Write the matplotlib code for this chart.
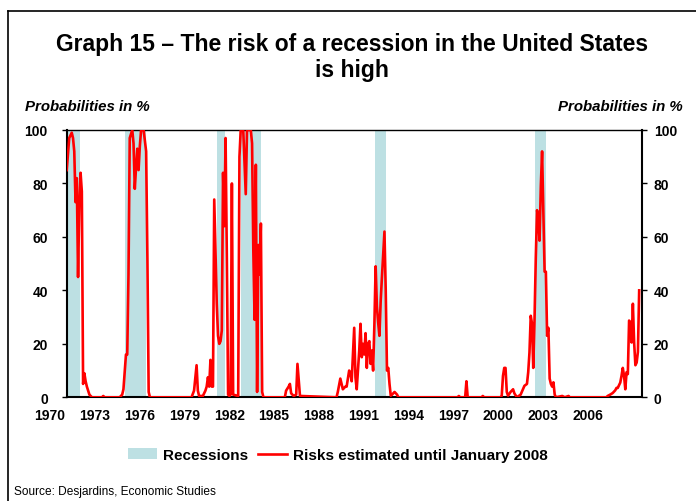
import matplotlib
matplotlib.use("Agg")
import matplotlib.pyplot as plt
from matplotlib.patches import Patch
from matplotlib.lines import Line2D
from matplotlib.transforms import ScaledTranslation
import numpy as np

# ---- data ----
# month index counted from January 1970
months = [0, 2, 4, 5, 6, 7, 8, 9, 10, 11, 12, 13, 14, 15, 16, 18, 20, 28, 29, 30,
          42, 44, 45, 47, 48, 49, 50, 52, 53, 54, 55, 56, 57, 58, 59, 61, 63, 64, 65, 66,
          99, 101, 103, 104, 105, 108, 110, 111, 112, 113, 114, 115, 116, 117, 118, 119,
          120, 121, 122, 123, 124, 125, 126, 127, 128, 129, 130, 131, 132, 136, 137, 138,
          140, 142, 143, 146, 147, 148, 149, 150, 151, 152, 153, 154, 155, 156,
          173, 174, 176, 177, 178, 180, 182, 183, 185, 214, 215, 217, 219, 221, 222, 224,
          225, 226, 227, 228, 229, 230, 231, 232, 233, 234, 235, 236, 237, 238, 239, 240,
          241, 242, 243, 244, 245, 246, 247, 248, 249, 250, 252, 253, 254, 255, 256, 257,
          258, 260, 262, 263, 310, 311, 312, 316, 317, 318, 329, 330, 331, 344, 345, 346,
          347, 348, 349, 350, 352, 354, 355, 357, 360, 363, 365, 366, 367, 368, 369, 370,
          371, 372, 373, 374, 375, 376, 377, 378, 379, 380, 381, 382, 383, 384, 385, 386,
          387, 388, 393, 395, 398, 399, 428, 429, 431, 433, 435, 436, 437, 439, 440, 441,
          442, 443, 444, 445, 446, 447, 448, 449, 450, 451, 452, 453, 454]
risk = [85, 97, 99, 97, 92, 73, 82, 45, 72, 84, 77, 5, 9, 6, 4, 1, 0, 0, 0.5, 0,
        0, 1, 3, 16, 16, 46, 97, 100, 95, 78, 86, 93, 85, 94, 100, 100, 92, 52, 2, 0,
        0, 2.5, 12, 2.5, 0.5, 0.5, 2.5, 4, 7.5, 4, 14, 4, 4, 74, 55, 35,
        23, 20, 21, 25, 84, 64, 97, 52, 1, 0.5, 1, 80, 1, 0.5, 90, 100,
        100, 76, 100, 100, 95, 55, 29, 87, 2, 57, 46, 65, 2, 0,
        0, 2.5, 4, 5, 1.5, 0.5, 1, 12.5, 0.5, 0, 2, 7, 3, 4, 4, 10,
        9, 6, 16, 26, 7.5, 3, 10, 17.5, 27.5, 15, 20, 16, 24, 11, 20, 21,
        12.5, 17.5, 10, 27, 49, 34, 28, 23, 36, 45, 62, 40, 10, 11, 5, 0.6,
        1, 2, 1, 0, 0, 0.5, 0, 0, 6, 0, 0, 0.5, 0, 0, 0.6, 8,
        11, 11, 2, 0.6, 2, 3, 1.5, 0, 1, 4.3, 5, 9.4, 16.8, 30.5, 27.6, 11,
        29, 52, 70, 66.7, 58.6, 79, 92, 70, 47, 47, 23, 26, 7, 5, 4, 5.6,
        1, 0, 0.5, 0, 0.5, 0, 0, 0.5, 1, 1.6, 2.6, 3.5, 3.5, 5.5, 8, 11,
        8, 3, 9.4, 8.7, 28.7, 28, 20.5, 35, 20.5, 12, 13, 17, 40]

# recessions (decimal years: start, end)
rec_start = [1970.0, 1973.86, 1979.95, 1981.52, 1990.37, 2000.95]
rec_end = [1970.88, 1975.25, 1980.46, 1982.84, 1991.10, 2001.66]

x_labels = ["1970", "1973", "1976", "1979", "1982", "1985", "1988", "1991",
            "1994", "1997", "2000", "2003", "2006"]
y_ticks = [0, 20, 40, 60, 80, 100]

years = 1970 + np.array(months) / 12.0

plt.rcParams['font.family'] = ['Liberation Sans', 'DejaVu Sans']

fig = plt.figure(figsize=(6.96, 5.02), dpi=100)
W, H = 696, 502
ax = fig.add_axes([66.7 / W, (H - 398.3) / H, (641.7 - 66.7) / W, (398.3 - 131) / H])

band_color = "#BDE0E3"
red = "#FF0000"
for s, e in zip(rec_start, rec_end):
    ax.axvspan(s, e, color=band_color, lw=0, zorder=1)

ax.plot(years, risk, color=red, lw=1.9, zorder=3)

ax.set_xlim(1970, 2008)
ax.set_ylim(0, 100)
ax.set_yticks(y_ticks)
ax.set_yticklabels([str(v) for v in y_ticks], fontsize=10, fontweight='bold')
ax.tick_params(axis='y', direction='out', length=3.6, width=1, left=True, right=False,
               labelleft=True, labelright=False, pad=10)

ax2 = ax.twinx()
ax2.set_ylim(0, 100)
ax2.set_yticks(y_ticks)
ax2.set_yticklabels([str(v) for v in y_ticks], fontsize=10, fontweight='bold')
ax2.tick_params(axis='y', direction='out', length=3.6, width=1, pad=5)
for sp in ax2.spines.values():
    sp.set_visible(False)

tick_years = [int(l) for l in x_labels]
ax.set_xticks(tick_years)
ax.set_xticklabels(x_labels, fontsize=10, fontweight='bold')
ax.tick_params(axis='x', length=0, pad=8)
for i, lab in enumerate(ax.get_xticklabels()):
    dx = -(16.7 + 0.6 * i) / 100.0
    lab.set_transform(lab.get_transform() + ScaledTranslation(dx, 0, fig.dpi_scale_trans))

for sp in ax.spines.values():
    sp.set_color("black")
    sp.set_linewidth(1.0)
ax.spines['left'].set_linewidth(1.5)
ax.spines['right'].set_linewidth(1.5)
ax.spines['bottom'].set_linewidth(1.5)

# title and axis captions
fig.text(352 / W, 1 - 45 / H, "Graph 15 – The risk of a recession in the United States",
         ha='center', va='center', fontsize=16.5, fontweight='bold')
fig.text(352 / W, 1 - 70 / H, "is high", ha='center', va='center',
         fontsize=16.5, fontweight='bold')
fig.text(25 / W, 1 - 107 / H, "Probabilities in %", ha='left', va='center',
         fontsize=10.8, fontweight='bold', style='italic')
fig.text(683 / W, 1 - 107 / H, "Probabilities in %", ha='right', va='center',
         fontsize=10.8, fontweight='bold', style='italic')

# legend
handles = [Patch(facecolor=band_color, edgecolor='none'),
           Line2D([0], [0], color=red, lw=1.9)]
leg = fig.legend(handles, ["Recessions", "Risks estimated until January 2008"],
                 loc='center', bbox_to_anchor=(338 / W, 1 - 456 / H), ncol=2,
                 frameon=False, prop={'size': 11, 'weight': 'bold'},
                 handlelength=1.9, handletextpad=0.4, columnspacing=0.6)

fig.text(14 / W, 1 - 492 / H, "Source: Desjardins, Economic Studies", ha='left',
         va='center', fontsize=8.6)

# outer frame (top and left edges)
fig.add_artist(Line2D([8 / W, 1.0], [1 - 12 / H, 1 - 12 / H], color='black', lw=1.2,
                      transform=fig.transFigure))
fig.add_artist(Line2D([8 / W, 8 / W], [1 - 12 / H, 0.0], color='black', lw=1.2,
                      transform=fig.transFigure))

fig.savefig("out.png", dpi=100)
